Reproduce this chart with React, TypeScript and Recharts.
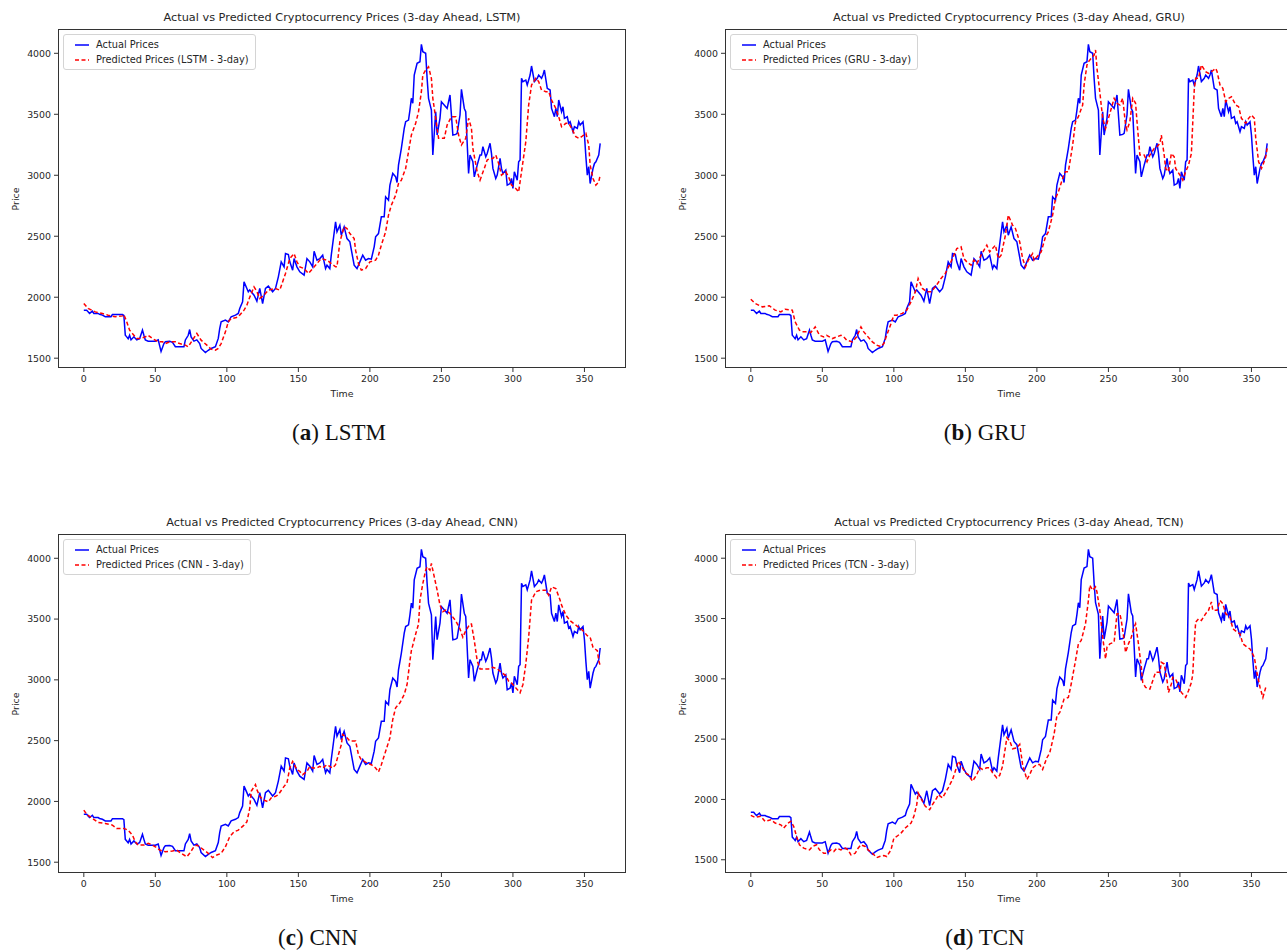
import { Line, LineChart, XAxis, YAxis } from "recharts"

const actualTime = [
  0, 2, 3, 4, 6, 7, 10, 11, 13, 15,
  19, 20, 27, 28, 29, 30, 31, 32, 33, 35,
  37, 39, 41, 42, 43, 45, 50, 52, 54, 56,
  57, 60, 62, 64, 70, 71, 73, 74, 75, 77,
  79, 81, 82, 85, 87, 89, 92, 94, 95, 96,
  99, 101, 103, 106, 108, 109, 111, 112, 114, 115,
  116, 117, 119, 121, 123, 125, 127, 129, 132, 134,
  136, 138, 140, 141, 143, 144, 146, 147, 149, 151,
  154, 156, 158, 160, 161, 163, 165, 167, 169, 170,
  172, 173, 176, 177, 179, 180, 182, 184, 186, 189,
  191, 193, 195, 197, 199, 201, 203, 204, 206, 208,
  210, 211, 213, 214, 216, 218, 219, 220, 222, 224,
  225, 227, 228, 229, 230, 231, 233, 235, 236, 237,
  239, 240, 241, 243, 244, 246, 247, 249, 250, 253,
  254, 256, 258, 260, 261, 263, 264, 266, 267, 269,
  270, 272, 273, 275, 277, 278, 279, 281, 282, 284,
  285, 286, 288, 289, 291, 292, 293, 295, 296, 298,
  299, 300, 301, 303, 304, 305, 306, 307, 309, 310,
  312, 313, 315, 317, 318, 320, 321, 322, 324, 326,
  327, 329, 330, 331, 332, 334, 335, 336, 338, 339,
  340, 342, 343, 345, 346, 347, 349, 350, 351, 352,
  353, 354, 356, 357, 358, 360, 361,
]
const actualPrice = [
  1894, 1894, 1880, 1867, 1886, 1867, 1867, 1860, 1853, 1840,
  1840, 1858, 1858, 1850, 1688, 1675, 1660, 1688, 1650, 1675,
  1650, 1660, 1730, 1688, 1650, 1640, 1640, 1650, 1555, 1620,
  1635, 1638, 1630, 1594, 1594, 1650, 1688, 1735, 1675, 1640,
  1650, 1620, 1580, 1546, 1565, 1580, 1594, 1662, 1743, 1798,
  1812, 1798, 1840, 1853, 1867, 1908, 1962, 2126, 2072, 2045,
  2060, 2045, 2017, 1968, 2072, 1948, 2072, 2091, 2045, 2072,
  2167, 2290, 2249, 2358, 2350, 2290, 2222, 2317, 2249, 2208,
  2181, 2317, 2290, 2249, 2377, 2304, 2317, 2345, 2235, 2263,
  2235, 2345, 2618, 2536, 2591, 2509, 2577, 2481, 2454, 2263,
  2235, 2290, 2345, 2304, 2317, 2312, 2413, 2495, 2522, 2659,
  2659, 2823, 2796, 2919, 3015, 2987, 2941, 3083, 3220, 3384,
  3439, 3453, 3535, 3631, 3590, 3822, 3918, 3931, 4073, 4013,
  4000, 3795, 3631, 3535, 3166, 3521, 3330, 3467, 3603, 3562,
  3548, 3658, 3330, 3335, 3344, 3494, 3705, 3548, 3521, 3015,
  3166, 3111, 2987, 3083, 3166, 3166, 3234, 3152, 3179, 3262,
  3179, 3056, 2974, 3001, 3138, 3056, 3015, 3042, 2919, 2932,
  2974, 2892, 3029, 2960, 3111, 3125, 3795, 3768, 3781, 3740,
  3822, 3896, 3768, 3795, 3822, 3795, 3822, 3863, 3713, 3699,
  3548, 3480, 3548, 3480, 3617, 3521, 3562, 3467, 3480, 3426,
  3439, 3357, 3398, 3385, 3439, 3412, 3439, 3330, 3152, 3001,
  3070, 2932, 3056, 3097, 3111, 3166, 3262,
]

const lstmTime = [
  0, 3, 8, 13, 17, 22, 27, 28, 30, 32,
  35, 37, 39, 43, 45, 48, 50, 52, 55, 57,
  60, 64, 67, 71, 73, 79, 82, 86, 89,
  92, 94, 96, 99, 101, 103, 106, 108, 112, 114,
  116, 119, 121, 123, 126, 129, 134, 137, 141, 144,
  147, 149, 151, 154, 157, 160, 163, 166, 170, 173,
  176, 177, 179, 182, 184, 186, 189, 190, 192, 194,
  197, 200, 204, 206, 208, 211, 213, 215, 218, 220,
  222, 225, 227, 229, 232, 234, 236, 237, 239, 241,
  243, 244, 246, 248, 252, 254, 257, 260, 262, 264,
  267, 269, 271, 272, 275, 277, 280, 282, 284, 286,
  288, 290, 292, 295, 297, 299, 302, 304, 306, 309,
  311, 313, 316, 318, 320, 323, 325, 327, 330, 332,
  334, 337, 339, 341, 344, 346, 348, 351, 353, 354,
  356, 358, 360, 361,
]
const lstmPrice = [
  1949, 1908, 1880, 1867, 1853, 1840, 1847, 1858, 1798, 1730,
  1688, 1661, 1661, 1675, 1688, 1661, 1648, 1634, 1634, 1620,
  1634, 1634, 1620, 1607, 1594, 1703, 1648, 1607, 1574,
  1566, 1580, 1620, 1716, 1798, 1826, 1831, 1840, 1894, 1935,
  2000, 2085, 2045, 1990, 2017, 2058, 2072, 2058, 2195, 2317,
  2358, 2290, 2249, 2235, 2195, 2235, 2276, 2317, 2304, 2276,
  2249, 2249, 2454, 2577, 2563, 2522, 2481, 2386, 2276, 2222,
  2235, 2290, 2304, 2345, 2427, 2536, 2673, 2755, 2837, 2932,
  2960, 3056, 3193, 3330, 3426, 3521, 3685, 3822, 3863, 3890,
  3795, 3631, 3467, 3303, 3303, 3412, 3480, 3480, 3330, 3248,
  3303, 3467, 3385, 3220, 3029, 2960, 3056, 3125, 3138, 3138,
  3166, 3097, 3001, 3029, 2987, 2919, 2892, 2864, 3029, 3275,
  3576, 3740, 3795, 3768, 3699, 3685, 3685, 3617, 3548, 3480,
  3398, 3426, 3426, 3385, 3316, 3303, 3316, 3344, 3248, 3083,
  2974, 2919, 2946, 3001,
]

const gruTime = [
  0, 3, 8, 13, 17, 21, 24, 29, 31, 34,
  36, 39, 42, 45, 48, 51, 53, 57, 60, 63,
  65, 67, 71, 74, 77, 79, 81, 85, 88, 91,
  93, 95, 98, 100, 102, 106, 109, 112, 115, 117,
  120, 123, 126, 129, 133, 136, 141, 144, 147, 149,
  151, 154, 156, 158, 161, 163, 165, 167, 169, 171,
  173, 175, 178, 180, 181, 183, 185, 188, 190, 192,
  194, 197, 198, 201, 203, 206, 208, 211, 213, 215,
  218, 220, 222, 225, 227, 229, 232, 233, 235, 236,
  238, 240, 241, 242, 244, 246, 248, 250, 252, 254,
  256, 258, 260, 262, 263, 265, 267, 269, 270, 272,
  275, 277, 279, 282, 284, 286, 287, 289, 290, 292,
  294, 296, 297, 300, 302, 304, 306, 308, 310, 311,
  313, 315, 318, 320, 322, 325, 326, 328, 330, 332,
  334, 336, 339, 341, 343, 346, 348, 350, 352, 353,
  355, 357, 358, 360, 361,
]
const gruPrice = [
  1984, 1949, 1921, 1929, 1894, 1880, 1902, 1894, 1798, 1730,
  1716, 1716, 1711, 1757, 1688, 1675, 1688, 1661, 1675, 1688,
  1675, 1648, 1634, 1675, 1757, 1716, 1688, 1634, 1607, 1594,
  1620, 1688, 1784, 1853, 1853, 1867, 1894, 1962, 2045, 2154,
  2072, 2045, 2045, 2085, 2154, 2195, 2317, 2399, 2413, 2317,
  2290, 2263, 2304, 2276, 2345, 2386, 2427, 2372, 2399, 2427,
  2317, 2345, 2509, 2673, 2645, 2591, 2563, 2454, 2317, 2249,
  2304, 2358, 2304, 2345, 2372, 2495, 2536, 2673, 2810, 2864,
  2974, 3029, 3029, 3248, 3439, 3480, 3576, 3740, 3904, 3931,
  3959, 3986, 4027, 3877, 3680, 3467, 3384, 3467, 3548, 3631,
  3590, 3576, 3631, 3412, 3371, 3439, 3631, 3590, 3439, 3166,
  3166, 3111, 3166, 3220, 3234, 3262, 3330, 3166, 3056, 3029,
  3179, 3152, 3056, 3001, 2960, 3029, 3083, 3179, 3699, 3795,
  3795, 3904, 3849, 3836, 3849, 3877, 3849, 3740, 3713, 3603,
  3631, 3644, 3576, 3562, 3467, 3426, 3467, 3494, 3467, 3303,
  3111, 3056, 3083, 3152, 3220,
]

const cnnTime = [
  0, 2, 6, 10, 15, 20, 23, 28, 31, 34,
  36, 38, 42, 45, 48, 50, 53, 57, 62, 65,
  68, 72, 74, 77, 79, 81, 84, 87, 90, 93,
  96, 99, 102, 105, 108, 112, 114, 116, 117, 120,
  121, 123, 125, 129, 131, 134, 136, 140, 142, 144,
  146, 149, 151, 153, 156, 158, 160, 163, 165, 167,
  170, 172, 174, 176, 178, 180, 181, 184, 186, 190,
  192, 194, 198, 201, 204, 206, 208, 211, 214, 216,
  218, 221, 224, 226, 228, 229, 232, 234, 235, 237,
  239, 240, 242, 243, 245, 247, 249, 251, 253, 256,
  260, 263, 265, 267, 270, 271, 273, 275, 277, 279,
  283, 286, 289, 292, 295, 297, 299, 302, 305, 307,
  309, 311, 313, 316, 319, 323, 325, 327, 330, 333,
  334, 337, 340, 343, 346, 349, 352, 354, 356, 359,
  360, 361,
]
const cnnPrice = [
  1929, 1893, 1860, 1827, 1819, 1805, 1778, 1778, 1764, 1723,
  1668, 1641, 1641, 1655, 1641, 1627, 1600, 1586, 1592, 1600,
  1573, 1545, 1573, 1627, 1641, 1627, 1600, 1573, 1538, 1559,
  1573, 1627, 1709, 1750, 1764, 1805, 1832, 1942, 2083, 2138,
  2097, 2042, 2015, 1996, 2029, 2042, 2056, 2124, 2152, 2275,
  2329, 2261, 2247, 2220, 2247, 2288, 2275, 2275, 2288, 2275,
  2302, 2288, 2275, 2302, 2384, 2466, 2551, 2524, 2497, 2497,
  2385, 2343, 2316, 2302, 2275, 2242, 2302, 2412, 2524, 2675,
  2770, 2811, 2880, 2962, 3158, 3240, 3377, 3459, 3655, 3792,
  3902, 3929, 3902, 3957, 3847, 3738, 3615, 3560, 3573, 3546,
  3486, 3418, 3350, 3404, 3459, 3459, 3322, 3158, 3090, 3090,
  3090, 3103, 3090, 3062, 3035, 2989, 2975, 2934, 2893, 2962,
  3131, 3350, 3655, 3724, 3738, 3738, 3696, 3765, 3751, 3655,
  3615, 3532, 3486, 3459, 3432, 3404, 3363, 3350, 3267, 3240,
  3158, 3117,
]

const tcnTime = [
  0, 3, 7, 10, 14, 17, 21, 23, 26, 28,
  30, 32, 34, 37, 41, 43, 46, 48, 51, 53,
  56, 58, 60, 63, 66, 68, 70, 73, 75, 77,
  80, 82, 85, 88, 90, 93, 95, 98, 100, 102,
  105, 108, 112, 114, 116, 117, 120, 122, 125, 127,
  130, 131, 134, 136, 138, 141, 143, 145, 148, 150,
  152, 155, 158, 160, 162, 165, 167, 169, 172, 174,
  176, 179, 181, 183, 186, 188, 190, 193, 195, 197,
  200, 202, 204, 207, 209, 212, 214, 216, 219, 222,
  224, 227, 229, 231, 234, 236, 237, 239, 241, 242,
  244, 246, 248, 249, 251, 254, 256, 258, 259, 261,
  262, 264, 266, 268, 269, 271, 273, 274, 276, 279,
  281, 283, 286, 287, 289, 291, 292, 294, 295, 297,
  299, 301, 304, 306, 308, 309, 310, 311, 313, 315,
  318, 320, 322, 323, 326, 328, 330, 332, 335, 337,
  340, 342, 344, 347, 349, 352, 354, 356, 358, 360,
  361,
]
const tcnPrice = [
  1868, 1851, 1860, 1818, 1832, 1804, 1790, 1763, 1804, 1818,
  1776, 1693, 1624, 1596, 1582, 1610, 1624, 1582, 1554, 1554,
  1582, 1568, 1596, 1582, 1596, 1582, 1540, 1554, 1596, 1624,
  1610, 1582, 1554, 1518, 1527, 1535, 1527, 1582, 1679, 1693,
  1721, 1763, 1804, 1860, 1957, 2054, 1985, 1943, 1915, 1957,
  2013, 2040, 2013, 2054, 2096, 2165, 2235, 2318, 2262, 2221,
  2207, 2151, 2207, 2262, 2249, 2262, 2262, 2221, 2179, 2200,
  2276, 2512, 2485, 2420, 2429, 2457, 2290, 2165, 2207, 2262,
  2290, 2290, 2249, 2346, 2387, 2540, 2693, 2721, 2832, 2846,
  2957, 3151, 3290, 3318, 3457, 3651, 3776, 3734, 3762, 3720,
  3568, 3345, 3165, 3262, 3290, 3304, 3540, 3540, 3484, 3318,
  3220, 3290, 3345, 3429, 3457, 3290, 3096, 2970, 2929, 2915,
  2985, 3054, 3054, 3137, 3123, 2985, 2887, 2957, 3012, 2998,
  2943, 2887, 2846, 2901, 2970, 3040, 3290, 3470, 3498, 3484,
  3540, 3568, 3637, 3568, 3568, 3651, 3623, 3540, 3512, 3415,
  3387, 3373, 3290, 3262, 3248, 3179, 3040, 2929, 2846, 2929,
  2943,
]

const xTicks = [0, 50, 100, 150, 200, 250, 300, 350]
const yTicks = [1500, 2000, 2500, 3000, 3500, 4000]

const AXES_W = 568
const AXES_H = 339
const Y_AXIS_W = 55
const X_AXIS_H = 45
const FONT = "'DejaVu Sans', sans-serif"
const TEXT = "#262626"
const SMALL = 9.4

type PanelSpec = {
  model: string
  letter: string
  time: number[]
  price: number[]
  left: number
  top: number
  captionX: number
  captionY: number
}

const panels: PanelSpec[] = [
  { model: "LSTM", letter: "a", time: lstmTime, price: lstmPrice, left: 58, top: 29, captionX: 339, captionY: 433 },
  { model: "GRU", letter: "b", time: gruTime, price: gruPrice, left: 725, top: 29, captionX: 985, captionY: 433 },
  { model: "CNN", letter: "c", time: cnnTime, price: cnnPrice, left: 58, top: 534, captionX: 318, captionY: 938 },
  { model: "TCN", letter: "d", time: tcnTime, price: tcnPrice, left: 725, top: 534, captionX: 985, captionY: 938 },
]

function toPoints(time: number[], price: number[]) {
  return time.map((t, i) => ({ time: t, price: price[i] }))
}

// matplotlib-style 5% margins around the data
function paddedDomain(values: number[]): [number, number] {
  const lo = Math.min(...values)
  const hi = Math.max(...values)
  const pad = (hi - lo) * 0.05
  return [lo - pad, hi + pad]
}

const actualPoints = toPoints(actualTime, actualPrice)
const xDomain = paddedDomain([0, 361])

function LegendRow({ dashed, color, label }: { dashed: boolean; color: string; label: string }) {
  return (
    <div style={{ display: "flex", alignItems: "center", height: 15 }}>
      <svg width={14} height={4} style={{ marginRight: 7 }}>
        <line
          x1={0}
          y1={2}
          x2={14}
          y2={2}
          stroke={color}
          strokeWidth={1.5}
          strokeDasharray={dashed ? "4 2.5" : undefined}
        />
      </svg>
      <span>{label}</span>
    </div>
  )
}

function Panel({ spec }: { spec: PanelSpec }) {
  const predicted = toPoints(spec.time, spec.price)
  const yDomain = paddedDomain([...actualPrice, ...spec.price])
  const centerX = spec.left + AXES_W / 2

  return (
    <>
      <div
        style={{
          position: "absolute",
          left: centerX,
          top: spec.top - 18,
          transform: "translateX(-50%)",
          whiteSpace: "nowrap",
          fontFamily: FONT,
          fontSize: 11.3,
          color: TEXT,
        }}
      >
        Actual vs Predicted Cryptocurrency Prices (3-day Ahead, {spec.model})
      </div>

      <div style={{ position: "absolute", left: spec.left - Y_AXIS_W, top: spec.top }}>
        <LineChart
          width={Y_AXIS_W + AXES_W}
          height={AXES_H + X_AXIS_H}
          margin={{ top: 0, right: 0, bottom: 0, left: 0 }}
        >
          <XAxis
            dataKey="time"
            type="number"
            domain={xDomain}
            ticks={xTicks}
            allowDataOverflow
            height={X_AXIS_H}
            axisLine={false}
            tickLine={{ stroke: "#333" }}
            tickSize={4}
            tickMargin={3}
            tick={{ fill: TEXT, fontSize: SMALL, fontFamily: FONT }}
          />
          <YAxis
            type="number"
            domain={yDomain}
            ticks={yTicks}
            allowDataOverflow
            width={Y_AXIS_W}
            axisLine={false}
            tickLine={{ stroke: "#333" }}
            tickSize={4}
            tickMargin={3}
            tick={{ fill: TEXT, fontSize: SMALL, fontFamily: FONT }}
          />
          <Line
            data={actualPoints}
            dataKey="price"
            type="linear"
            stroke="#0000ff"
            strokeWidth={1.5}
            dot={false}
            isAnimationActive={false}
          />
          <Line
            data={predicted}
            dataKey="price"
            type="linear"
            stroke="#ff0000"
            strokeWidth={1.5}
            strokeDasharray="4 2.5"
            dot={false}
            isAnimationActive={false}
          />
        </LineChart>
      </div>

      {/* axes frame, like matplotlib spines */}
      <div
        style={{
          position: "absolute",
          left: spec.left,
          top: spec.top,
          width: AXES_W,
          height: AXES_H,
          border: "1px solid #333",
          boxSizing: "border-box",
          pointerEvents: "none",
        }}
      />

      <div
        style={{
          position: "absolute",
          left: spec.left + 5,
          top: spec.top + 5,
          padding: "2px 6px 2px 11px",
          border: "1px solid #d4d4d4",
          borderRadius: 3,
          background: "rgba(255,255,255,0.8)",
          fontFamily: FONT,
          fontSize: 9.8,
          color: TEXT,
          whiteSpace: "nowrap",
        }}
      >
        <LegendRow dashed={false} color="#0000ff" label="Actual Prices" />
        <LegendRow dashed color="#ff0000" label={`Predicted Prices (${spec.model} - 3-day)`} />
      </div>

      <div
        style={{
          position: "absolute",
          left: centerX,
          top: spec.top + AXES_H + 20,
          transform: "translateX(-50%)",
          fontFamily: FONT,
          fontSize: SMALL,
          color: TEXT,
        }}
      >
        Time
      </div>
      <div
        style={{
          position: "absolute",
          left: spec.left - 43,
          top: spec.top + AXES_H / 2,
          transform: "translate(-50%, -50%) rotate(-90deg)",
          fontFamily: FONT,
          fontSize: SMALL,
          color: TEXT,
        }}
      >
        Price
      </div>

      <div
        style={{
          position: "absolute",
          left: spec.captionX,
          top: spec.captionY,
          transform: "translate(-50%, -50%)",
          whiteSpace: "nowrap",
          fontFamily: "'Liberation Serif', serif",
          fontSize: 23,
          color: "#111",
        }}
      >
        (<b>{spec.letter}</b>) {spec.model}
      </div>
    </>
  )
}

export default function App() {
  return (
    <div
      style={{
        position: "absolute",
        left: 0,
        top: 0,
        width: 1287,
        height: 950,
        overflow: "hidden",
        background: "#fff",
      }}
    >
      {panels.map((p) => (
        <Panel key={p.model} spec={p} />
      ))}
    </div>
  )
}
